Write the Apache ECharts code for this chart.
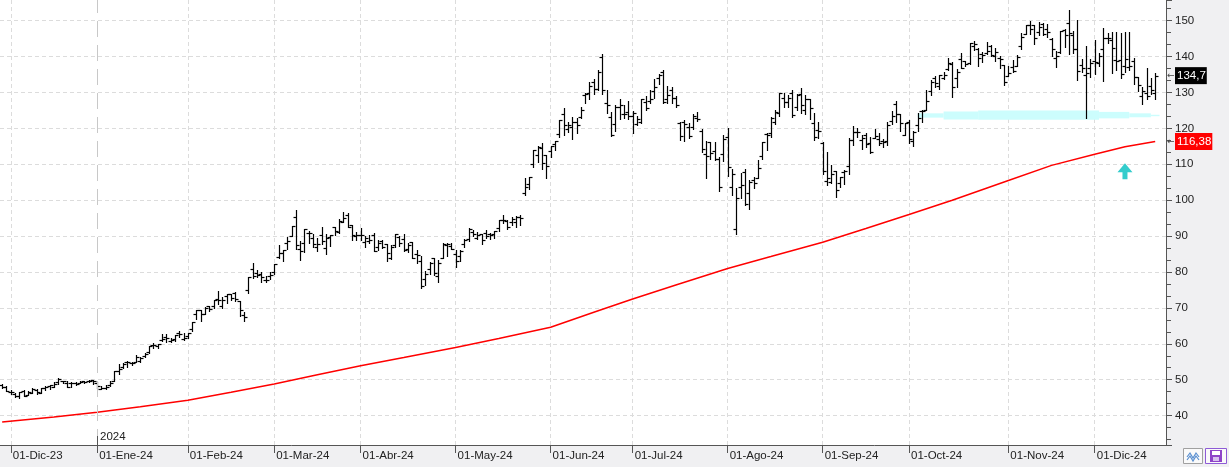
<!DOCTYPE html>
<html>
<head>
<meta charset="utf-8">
<script src="https://cdn.jsdelivr.net/npm/echarts@6/dist/echarts.min.js"></script>
<style>
  html, body { margin: 0; padding: 0; background: #f0f0f2; }
  #chart { width: 1229px; height: 467px; }
</style>
</head>
<body>
<div id="chart"></div>
<script>
// ---------- calendar ----------
const MONTH_ABBR = ['Ene','Feb','Mar','Abr','May','Jun','Jul','Ago','Sep','Oct','Nov','Dic'];
const HOLIDAYS = ['2023-12-25','2024-01-01','2024-01-15','2024-02-19','2024-03-29','2024-05-27',
                  '2024-06-19','2024-07-04','2024-09-02','2024-11-28','2024-12-25'];
const FIRST_DAY = '2023-11-29';
const LAST_SLOT = '2024-12-24';   // two empty slots after the last bar

// ---------- OHLC bars [open, high, low, close], one array per month ----------
const nov23 = [[48.4,48.8,47.7,48.1],[48.1,48.3,46.9,46.9]];
const dec23 = [
 [46.5,47.2,46.0,46.6],[46.1,46.2,45.2,45.5],[45.5,46.7,45.0,46.6],[46.9,47.0,45.5,45.5],
 [45.8,46.9,45.8,46.6],[46.3,47.6,46.2,47.5],[47.2,47.3,46.0,46.6],[46.2,47.7,46.2,47.7],
 [47.7,48.3,47.1,48.1],[48.3,48.6,47.4,48.4],[48.0,49.4,48.0,48.9],[49.4,50.4,48.9,50.1],
 [49.6,49.7,49.0,49.6],[49.0,49.5,48.1,48.1],[49.1,49.3,48.1,49.0],[49.2,49.4,48.5,48.8],
 [49.0,49.6,49.0,49.3],[49.5,49.7,49.1,49.4],[49.6,49.9,49.4,49.5],[49.8,50.0,48.8,49.5]];
const jan24 = [
 [49.2,49.3,47.6,48.2],[47.5,48.2,47.3,47.6],[47.8,48.5,47.5,48.0],[48.5,49.5,48.3,49.1],
 [49.5,52.3,49.5,52.3],[52.4,54.3,51.7,53.1],[53.6,54.6,53.2,54.4],[54.9,55.3,53.6,54.8],
 [54.6,54.9,54.2,54.7],[55.0,56.8,55.0,56.4],[55.2,56.3,54.8,56.1],[56.6,57.4,56.2,57.1],
 [57.7,59.5,57.3,59.5],[59.8,60.3,58.8,59.7],[59.5,59.9,58.8,59.9],[61.0,62.8,60.8,61.4],
 [62.0,62.7,60.4,61.6],[60.9,61.5,60.4,61.0],[61.2,62.5,60.8,62.5],[62.9,63.5,62.0,62.8],
 [61.4,63.0,61.0,61.5]];
const feb24 = [
 [62.1,63.1,61.5,63.0],[64.0,66.2,63.6,66.2],[68.2,69.4,66.9,69.3],[69.3,69.4,66.4,68.2],
 [68.3,70.2,68.3,70.1],[70.5,70.6,69.0,69.6],[70.5,72.1,70.0,72.1],[72.6,74.6,71.2,72.3],
 [70.5,72.9,70.0,72.1],[73.2,74.0,71.5,73.9],[73.8,73.9,72.3,72.7],[74.1,74.4,72.0,72.6],
 [71.9,71.9,67.7,69.5],[68.0,68.9,66.3,67.5],[75.0,78.5,74.2,78.5],[80.8,82.4,78.2,78.8],
 [79.8,80.6,78.5,79.1],[79.4,79.9,77.2,78.7],[77.7,78.9,77.1,77.7],[79.0,79.9,78.1,79.1]];
const mar24 = [
 [80.0,82.3,79.4,82.3],[84.1,87.6,83.8,85.2],[85.2,86.1,83.0,86.0],[88.0,89.7,86.5,88.7],
 [90.1,92.7,89.9,92.7],[95.2,97.4,86.5,87.5],[86.4,88.7,83.3,85.8],[88.0,91.9,85.5,91.9],
 [91.0,91.5,88.0,90.9],[89.5,90.6,86.9,87.9],[86.9,89.5,85.9,87.8],[90.3,92.4,87.8,88.5],
 [86.7,90.6,85.0,89.4],[89.8,90.4,87.2,90.4],[92.4,92.4,90.2,91.4],[91.1,94.7,91.0,94.3],
 [93.9,96.8,93.8,95.0],[95.8,96.4,92.5,92.6],[93.1,93.2,89.0,90.3],[90.0,91.2,88.9,90.4]];
const apr24 = [
 [90.3,92.2,89.0,90.4],[88.4,90.1,87.1,89.5],[88.5,90.3,88.1,89.0],[90.4,90.8,85.9,85.9],
 [86.9,88.9,86.0,88.0],[88.7,88.8,86.8,87.1],[87.7,87.8,83.0,85.4],[83.9,87.4,83.6,87.0],
 [87.4,90.7,87.1,90.6],[89.7,90.1,87.2,88.2],[89.1,90.6,85.9,86.0],[86.5,88.2,85.6,87.4],
 [88.3,88.3,83.9,84.0],[84.9,86.1,82.4,84.7],[83.1,84.4,75.6,76.2],[78.1,80.4,76.5,79.5],
 [80.8,82.7,79.5,82.4],[83.9,84.0,79.3,79.7],[78.8,83.3,77.2,82.6],[83.8,88.0,83.8,87.7],
 [87.6,88.0,84.5,87.8],[87.2,88.2,86.4,86.4]];
const may24 = [
 [85.0,86.0,81.3,83.0],[84.5,86.0,83.2,85.8],[87.7,89.2,87.0,88.8],[89.3,92.2,88.7,92.1],
 [91.1,91.8,89.9,90.6],[89.5,91.2,89.2,90.4],[90.6,90.6,87.7,88.8],[90.8,91.8,89.6,89.9],
 [90.5,91.0,89.1,90.4],[90.7,91.4,89.5,91.4],[92.2,94.6,91.5,94.6],[94.4,95.8,93.7,94.4],
 [94.3,94.4,92.0,92.5],[93.8,95.4,93.1,94.8],[93.8,95.6,92.6,95.4],[95.4,96.0,93.2,95.0],
 [102.0,106.3,101.5,103.8],[104.4,106.5,103.0,106.5],[110.2,114.0,109.2,113.9],[112.6,115.0,110.7,114.8],
 [114.6,115.8,108.6,110.5],[112.5,112.7,106.2,109.6]];
const jun24 = [
 [113.6,115.0,112.0,115.0],[115.7,116.6,114.0,116.4],[118.4,122.4,117.5,122.4],[124.1,125.6,118.3,121.0],
 [119.8,121.7,119.0,120.9],[120.4,123.1,117.0,121.8],[121.8,122.9,118.7,120.9],[123.1,126.0,122.9,125.2],
 [129.4,129.8,127.1,129.6],[130.0,132.8,128.3,131.9],[133.0,133.7,129.6,131.0],[131.1,136.3,130.7,135.6],
 [139.8,140.8,129.5,130.8],[127.1,130.6,124.3,126.6],[123.2,124.5,118.0,118.1],[121.2,126.5,119.3,126.1],
 [126.1,128.1,122.6,126.4],[124.1,126.4,122.9,124.0],[124.6,127.7,122.6,123.5]];
const jul24 = [
 [123.5,124.8,118.8,124.3],[121.1,123.4,121.0,122.7],[121.7,128.3,121.4,128.3],[127.4,128.9,125.1,125.8],
 [127.5,130.8,127.0,128.2],[130.4,133.8,128.6,131.4],[134.0,135.1,132.4,134.9],[135.8,136.2,127.0,127.4],
 [128.3,131.9,127.2,129.2],[130.6,131.4,127.2,128.4],[128.4,129.0,125.9,126.4],[121.4,121.9,116.7,118.0],
 [121.9,122.4,116.6,121.1],[120.4,121.6,117.4,117.9],[120.4,124.1,119.9,123.5],[122.8,124.7,122.1,122.6],
 [119.2,119.9,113.4,114.3],[113.0,116.6,106.3,112.3],[116.2,116.2,111.6,113.1],[113.7,116.3,111.3,111.6],
 [111.5,112.0,102.5,103.7],[112.9,118.3,110.9,117.0]];
const aug24 = [
 [117.5,120.2,106.8,109.2],[103.8,108.7,101.4,107.3],[92.1,103.4,90.7,100.5],[103.8,107.7,100.6,104.3],
 [107.8,108.8,98.7,98.9],[102.0,105.5,97.5,105.0],[105.6,106.6,103.4,104.8],[106.3,111.1,106.3,109.0],
 [112.4,116.2,111.6,116.1],[118.5,118.6,114.1,118.1],[118.8,123.2,117.7,122.9],[121.9,125.0,121.2,124.6],
 [124.3,130.0,123.4,130.0],[128.4,129.9,125.9,127.3],[127.3,129.4,126.0,128.5],[130.0,130.8,123.1,123.7],
 [125.9,129.6,125.2,129.4],[129.6,131.3,124.4,126.5],[125.0,129.2,123.9,128.3],[128.1,128.3,122.6,125.6],
 [121.4,124.4,116.7,117.6],[119.5,121.8,117.2,119.4]];
const sep24 = [
 [116.0,116.2,107.3,108.0],[105.4,113.3,104.1,106.2],[105.0,109.7,104.8,107.2],[108.0,108.2,101.0,102.8],
 [104.9,106.6,103.7,106.5],[107.8,108.4,104.6,108.1],[109.4,117.2,107.4,116.9],[116.9,120.8,115.4,119.1],
 [119.1,120.0,117.6,119.1],[116.8,118.2,114.4,117.3],[118.2,118.8,114.8,115.6],[115.9,117.7,113.2,113.4],
 [117.4,119.7,117.3,117.9],[117.1,118.6,115.4,116.0],[116.6,117.0,114.9,116.3],[116.5,121.8,115.4,120.9],
 [122.0,124.9,121.2,123.5],[126.8,127.7,121.8,124.0],[124.0,124.0,119.3,121.4],[118.3,121.5,118.2,121.4]];
const oct24 = [
 [121.8,122.4,115.8,117.0],[116.4,119.4,115.1,118.9],[120.9,124.4,119.3,122.9],[124.9,125.0,121.8,124.9],
 [125.0,130.6,125.0,127.7],[130.3,133.5,129.4,132.9],[134.1,134.5,131.4,132.7],[131.9,135.0,131.0,134.8],
 [134.0,135.8,133.7,134.8],[136.5,139.6,136.3,138.1],[137.9,138.6,128.7,131.6],[134.0,136.6,131.6,135.7],
 [139.3,140.9,136.9,136.9],[138.7,138.9,137.3,138.0],[138.1,143.7,138.0,143.7],[142.9,144.4,141.8,143.6],
 [142.0,142.4,137.5,139.6],[140.8,141.4,138.5,140.4],[140.9,144.1,140.8,141.5],[143.0,143.1,140.1,140.5],
 [140.3,142.3,138.9,141.3],[139.5,140.3,136.8,139.3],[137.6,137.6,132.1,132.8]];
const nov24 = [
 [134.7,137.3,134.6,135.4],[137.2,139.0,135.6,136.1],[137.5,140.4,137.3,139.9],[143.0,146.5,142.0,145.6],
 [146.4,148.9,146.2,148.9],[148.8,149.8,146.3,147.6],[148.7,148.9,143.6,145.3],[146.8,149.7,146.0,148.3],
 [149.1,149.3,145.9,146.3],[147.6,149.0,145.6,146.8],[144.9,145.2,140.1,142.0],[139.5,141.6,137.2,140.2],
 [141.3,147.1,141.0,147.0],[147.4,147.6,142.7,145.9],[149.4,152.9,140.7,146.7],[145.9,147.2,141.1,142.0],
 [142.0,150.2,133.5,136.0],[137.7,139.3,135.7,136.9],[135.0,143.0,122.8,135.3],[136.8,139.4,134.4,138.3]];
const dec24 = [
 [138.8,144.6,135.2,138.6],[138.3,140.9,137.3,140.3],[142.0,147.9,133.3,145.1],[145.1,146.5,143.7,145.1],
 [144.6,146.9,135.3,142.4],[139.0,146.9,136.2,138.8],[139.0,146.5,134.0,135.1],[137.4,146.9,135.8,139.3],
 [137.1,146.9,136.2,137.3],[138.9,139.6,132.5,134.3],[134.2,134.4,130.4,132.0],[129.1,131.6,126.9,130.4],
 [130.0,136.7,128.3,128.9],[131.8,134.0,129.6,130.7],[129.8,135.3,128.2,134.7]];

// ---------- 200-session moving average ----------
const maPoints = [
 ['2023-11-29',38.2],['2023-12-15',39.6],['2024-01-02',40.9],['2024-01-17',42.45],
 ['2024-02-01',44.3],['2024-02-15',46.5],['2024-03-01',48.8],['2024-03-15',51.35],
 ['2024-04-01',53.9],['2024-04-15',56.2],['2024-05-01',59.0],['2024-05-15',61.5],
 ['2024-06-03',64.6],['2024-06-17',68.8],['2024-07-01',72.5],['2024-07-16',76.4],
 ['2024-08-01',81.0],['2024-08-15',84.3],['2024-09-03',88.3],['2024-09-17',92.1],
 ['2024-10-01',96.0],['2024-10-15',100.0],['2024-11-01',105.5],['2024-11-15',109.7],
 ['2024-12-02',112.8],['2024-12-11',114.9],['2024-12-20',116.38]];

// ---------- annotations ----------
const supportBand = [   // [fromDate, toDate, low, high]
 ['2024-10-03','2024-10-11',123.0,124.2],
 ['2024-10-11','2024-10-23',122.5,124.7],
 ['2024-10-23','2024-12-03',122.4,125.0],
 ['2024-12-03','2024-12-12',122.8,124.6],
 ['2024-12-12','2024-12-19',123.1,124.2],
 ['2024-12-19','2024-12-23',123.4,123.8]];
const arrowMark = ['2024-12-11', 108.1];
const yearMark = ['2024-01-02', '2024'];
const yTickLabels = [40,50,60,70,80,90,100,110,120,130,140,150];

// ---------- build ----------
function tradingDays(start, end) {
  const out = [];
  const d = new Date(start + 'T00:00:00Z');
  const e = new Date(end + 'T00:00:00Z');
  while (d <= e) {
    const wd = d.getUTCDay();
    const s = d.toISOString().slice(0, 10);
    if (wd !== 0 && wd !== 6 && HOLIDAYS.indexOf(s) < 0) out.push(s);
    d.setUTCDate(d.getUTCDate() + 1);
  }
  return out;
}
const DATES = tradingDays(FIRST_DAY, LAST_SLOT);
const BARS = [].concat(nov23, dec23, jan24, feb24, mar24, apr24, may24, jun24, jul24, aug24, sep24, oct24, nov24, dec24);
const ohlcData = BARS.map((b, i) => [i, b[0], b[1], b[2], b[3]]);
const lastClose = BARS[BARS.length - 1][3];
const lastMA = maPoints[maPoints.length - 1][1];

function isMonthStart(i) {
  return i > 0 && DATES[i].slice(0, 7) !== DATES[i - 1].slice(0, 7);
}
function isGridMonth(i) {
  return isMonthStart(i) && DATES[i] !== yearMark[0];
}
function fmtDate(s) {
  return '01-' + MONTH_ABBR[+s.slice(5, 7) - 1] + '-' + s.slice(2, 4);
}
const fmtNum = v => String(v).replace('.', ',');

const FONT = "'Liberation Sans', Arial, sans-serif";

function renderOHLC(params, api) {
  const i = api.value(0);
  const pO = api.coord([i, api.value(1)]);
  const pH = api.coord([i, api.value(2)]);
  const pL = api.coord([i, api.value(3)]);
  const pC = api.coord([i, api.value(4)]);
  const x = Math.round(pH[0]) + 0.5;
  const yo = Math.round(pO[1]) + 0.5, yc = Math.round(pC[1]) + 0.5;
  const st = { stroke: '#000', lineWidth: 1.2 };
  return {
    type: 'group',
    children: [
      { type: 'line', shape: { x1: x, y1: Math.round(pH[1]), x2: x, y2: Math.round(pL[1]) + 1 }, style: st },
      { type: 'line', shape: { x1: x - 3, y1: yo, x2: x, y2: yo }, style: st },
      { type: 'line', shape: { x1: x, y1: yc, x2: x + 3, y2: yc }, style: st }
    ]
  };
}

const chart = echarts.init(document.getElementById('chart'), null, { renderer: 'canvas' });

function priceTag(bg) {
  return {
    show: true, position: 'end', distance: 1,
    rich: {
      a: { color: '#444', fontSize: 9, fontFamily: 'DejaVu Sans', width: 8 },
      b: { backgroundColor: bg, color: '#ffffff', fontSize: 11.5, fontFamily: FONT, padding: [3, 1, 2, 2], lineHeight: 13 }
    }
  };
}

const option = {
  animation: false,
  backgroundColor: '#f0f0f2',
  textStyle: { fontFamily: FONT },
  grid: { left: 0, right: 63, top: 0, bottom: 22, show: true, backgroundColor: '#ffffff', borderWidth: 0 },
  xAxis: {
    type: 'category',
    data: DATES,
    boundaryGap: true,
    axisLine: { show: true, lineStyle: { color: '#555', width: 1 } },
    axisTick: { show: true, alignWithLabel: true, length: 8, interval: (i) => isMonthStart(i), lineStyle: { color: '#555' } },
    axisLabel: {
      show: true, interval: (i) => isMonthStart(i), formatter: fmtDate,
      align: 'left', margin: 5, padding: [0, 0, 0, 2],
      color: '#222', fontSize: 11.5, fontFamily: FONT
    },
    splitLine: { show: true, alignWithLabel: true, interval: (i) => isGridMonth(i),
      lineStyle: { color: '#dcdcdc', type: [4, 3], width: 1 } }
  },
  yAxis: {
    type: 'value',
    position: 'right',
    min: 31.81, max: 155.77,
    splitNumber: 12, minInterval: 10, maxInterval: 10,
    axisLine: { show: true, lineStyle: { color: '#555', width: 1 } },
    axisTick: { show: true, length: 6, lineStyle: { color: '#555' } },
    minorTick: { show: true, splitNumber: 3, length: 5, lineStyle: { color: '#555' } },
    axisLabel: {
      show: true, margin: 9, color: '#222', fontSize: 11.5, fontFamily: FONT,
      showMinLabel: false, showMaxLabel: false,
      formatter: v => (yTickLabels.indexOf(Math.round(v)) >= 0 && Math.abs(v - Math.round(v)) < 1e-6) ? String(Math.round(v)) : ''
    },
    splitLine: { show: true, showMinLine: false, showMaxLine: false, lineStyle: { color: '#dcdcdc', type: [4, 3], width: 1 } }
  },
  series: [
    {
      name: 'MA',
      type: 'line',
      z: 2,
      data: maPoints,
      showSymbol: false,
      symbol: 'none',
      smooth: false,
      lineStyle: { color: '#ff0000', width: 1.5 },
      silent: true,
      markArea: {
        silent: true,
        itemStyle: { color: '#ccfdfd' },
        data: supportBand.map(b => [{ xAxis: b[0], yAxis: b[2] }, { xAxis: b[1], yAxis: b[3] }])
      },
      markPoint: {
        silent: true,
        symbol: 'path://M7.5,0 L15,9 L10,9 L10,16 L5,16 L5,9 L0,9 Z',
        symbolSize: [15, 16],
        itemStyle: { color: '#33cccc' },
        label: { show: false },
        data: [{ coord: arrowMark }]
      }
    },
    {
      name: 'OHLC',
      type: 'custom',
      z: 3,
      renderItem: renderOHLC,
      encode: { x: 0, y: [1, 2, 3, 4] },
      data: ohlcData,
      markLine: {
        silent: true,
        symbol: ['none', 'none'],
        data: [
          { xAxis: yearMark[0], lineStyle: { color: '#c8c8c8', type: [16, 8], width: 1 }, label: { show: false } }
        ]
      }
    },
    {
      name: 'tags',
      type: 'line',
      z: 5,
      data: [],
      markLine: {
        silent: true,
        symbol: ['none', 'none'],
        lineStyle: { color: 'rgba(0,0,0,0)', width: 0 },
        data: [
          { yAxis: lastClose, label: Object.assign(priceTag('#000000'), { formatter: '{a|←}{b|' + fmtNum(lastClose) + '}' }) },
          { yAxis: lastMA, label: Object.assign(priceTag('#ff0000'), { formatter: '{a|←}{b|' + fmtNum(lastMA) + '}' }) }
        ]
      }
    }
  ]
};
chart.setOption(option);

// year marker ("2024") and bottom-right buttons
const yx = chart.convertToPixel({ xAxisIndex: 0 }, yearMark[0]);
const gridBottom = chart.convertToPixel({ yAxisIndex: 0 }, 31.81);
chart.setOption({
  graphic: [
    { type: 'line', shape: { x1: Math.round(yx) + 0.5, y1: gridBottom - 9, x2: Math.round(yx) + 0.5, y2: gridBottom }, style: { stroke: '#555', lineWidth: 1 }, z: 10 },
    { type: 'text', x: Math.round(yx) + 3, y: gridBottom - 8, style: { text: yearMark[1], fill: '#222', font: '11.5px ' + FONT, textVerticalAlign: 'middle' }, z: 10 },
    { type: 'rect', shape: { x: 1183.5, y: 448.5, width: 19, height: 15 }, style: { fill: '#fafafa', stroke: '#a0a0a0', lineWidth: 1 }, z: 10 },
    { type: 'polyline', shape: { points: [[1187,457],[1190,453],[1193,458],[1196,453],[1199,457]] }, style: { stroke: '#5a8fd0', fill: null, lineWidth: 1.2 }, z: 11 },
    { type: 'polyline', shape: { points: [[1187,460],[1190,456],[1193,461],[1196,456],[1199,460]] }, style: { stroke: '#5a8fd0', fill: null, lineWidth: 1.2 }, z: 11 },
    { type: 'rect', shape: { x: 1205.5, y: 448.5, width: 21, height: 15 }, style: { fill: '#fafafa', stroke: '#8e5bd6', lineWidth: 1 }, z: 10 },
    { type: 'rect', shape: { x: 1210, y: 450, width: 12, height: 12 }, style: { fill: '#8e44c8' }, z: 11 },
    { type: 'rect', shape: { x: 1212, y: 451, width: 8, height: 4 }, style: { fill: '#ffffff' }, z: 12 },
    { type: 'rect', shape: { x: 1213, y: 457, width: 6, height: 4 }, style: { fill: '#d8c0ee' }, z: 12 }
  ]
});
</script>
</body>
</html>
